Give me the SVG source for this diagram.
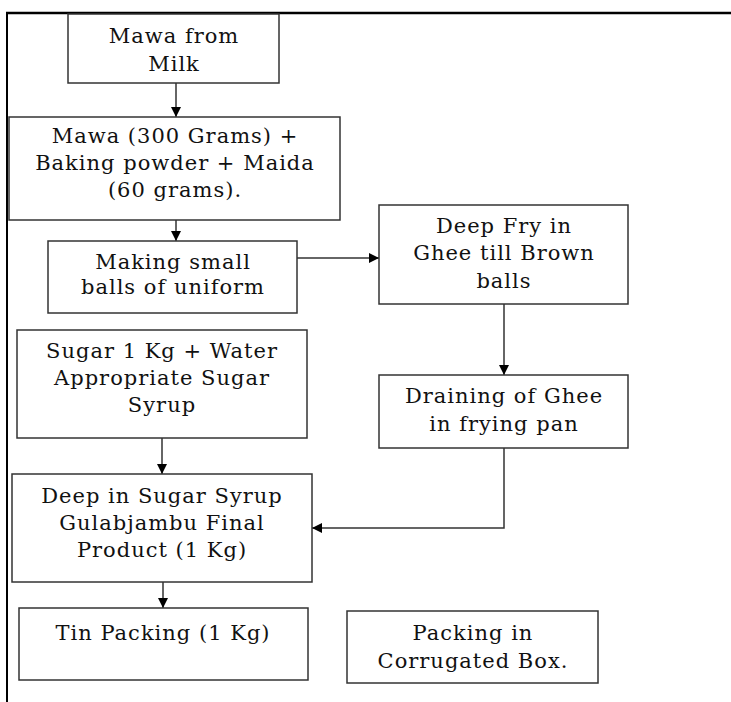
<svg xmlns="http://www.w3.org/2000/svg" width="731" height="702" viewBox="0 0 731 702">
<style>
.box{fill:#fff;stroke:#333;stroke-width:1.5}
.t{font-family:"DejaVu Serif","Liberation Serif",serif;font-size:21px;letter-spacing:1px;fill:#111;text-anchor:middle}
.c{fill:none;stroke:#333;stroke-width:1.5;marker-end:url(#ah)}
.frame{stroke:#000;fill:none}
</style>
<defs>
<marker id="ah" markerUnits="userSpaceOnUse" markerWidth="10" markerHeight="10" refX="10" refY="5" orient="auto">
<path d="M0,0 L10,5 L0,10 z" fill="#000"/>
</marker>
</defs>
<rect width="731" height="702" fill="#fff"/>
<g id="frame">
<line class="frame" x1="6" y1="13" x2="731" y2="13" stroke-width="2.5"/>
<line class="frame" x1="7" y1="12" x2="7" y2="702" stroke-width="2"/>
</g>
<g id="connectors">
<line class="c" x1="176" y1="83" x2="176" y2="117"/>
<line class="c" x1="176" y1="220" x2="176" y2="241"/>
<line class="c" x1="297" y1="258" x2="379" y2="258"/>
<line class="c" x1="504" y1="304" x2="504" y2="375"/>
<line class="c" x1="162" y1="438" x2="162" y2="474"/>
<polyline class="c" points="504,448 504,528 312,528"/>
<line class="c" x1="163" y1="582" x2="163" y2="608"/>
</g>
<g id="n1">
<rect class="box" x="68" y="14" width="211" height="69"/>
<text class="t" x="174" y="43">Mawa from</text>
<text class="t" x="174" y="71">Milk</text>
</g>
<g id="n2">
<rect class="box" x="9" y="117" width="331" height="103"/>
<text class="t" x="175" y="143">Mawa (300 Grams) +</text>
<text class="t" x="175" y="170">Baking powder + Maida</text>
<text class="t" x="175" y="197">(60 grams).</text>
</g>
<g id="n3">
<rect class="box" x="48" y="241" width="249" height="72"/>
<text class="t" x="173" y="269">Making small</text>
<text class="t" x="173" y="294">balls of uniform</text>
</g>
<g id="n4">
<rect class="box" x="379" y="205" width="249" height="99"/>
<text class="t" x="504" y="233">Deep Fry in</text>
<text class="t" x="504" y="260">Ghee till Brown</text>
<text class="t" x="504" y="288">balls</text>
</g>
<g id="n5">
<rect class="box" x="17" y="330" width="290" height="108"/>
<text class="t" x="162" y="358">Sugar 1 Kg + Water</text>
<text class="t" x="162" y="385">Appropriate Sugar</text>
<text class="t" x="162" y="412">Syrup</text>
</g>
<g id="n6">
<rect class="box" x="379" y="375" width="249" height="73"/>
<text class="t" x="504" y="403">Draining of Ghee</text>
<text class="t" x="504" y="431">in frying pan</text>
</g>
<g id="n7">
<rect class="box" x="12" y="474" width="300" height="108"/>
<text class="t" x="162" y="503">Deep in Sugar Syrup</text>
<text class="t" x="162" y="530">Gulabjambu Final</text>
<text class="t" x="162" y="557">Product (1 Kg)</text>
</g>
<g id="n8">
<rect class="box" x="19" y="608" width="289" height="72"/>
<text class="t" x="163" y="640">Tin Packing (1 Kg)</text>
</g>
<g id="n9">
<rect class="box" x="347" y="611" width="251" height="72"/>
<text class="t" x="473" y="640">Packing in</text>
<text class="t" x="473" y="668">Corrugated Box.</text>
</g>
</svg>
